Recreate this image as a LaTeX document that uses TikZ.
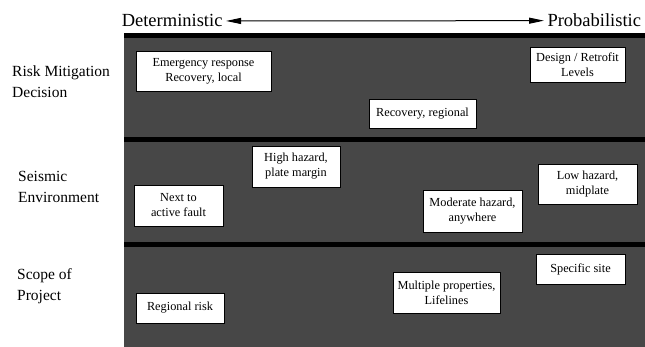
\documentclass[tikz,border=0pt]{standalone}
\usepackage{fontspec}
\setmainfont{Liberation Serif}
\usetikzlibrary{arrows.meta}

\begin{document}
\begin{tikzpicture}[x=1pt,y=-1pt,
  band/.style={line width=5pt},
  item/.style={draw=black,fill=white,line width=.6pt,align=center,inner sep=0pt,
    font=\fontsize{12.3}{15}\selectfont},
  side/.style={anchor=west,align=left,inner sep=0pt,font=\fontsize{15.5}{21}\selectfont},
  head/.style={font=\fontsize{18.5}{22}\selectfont}]
\useasboundingbox (0,0) rectangle (645,347);
% shaded field and the black bands
\fill[black!72] (124,33) rectangle (645,347);
\draw[band] (124,35.5) -- (645,35.5);
\draw[band] (124,140) -- (645,140);
\draw[band] (124,244.5) -- (645,244.5);
% header
\node[head,anchor=base east] (det) at (226,27) {Deterministic};
\node[head,anchor=base west] (prob) at (544,27) {Probabilistic};
\draw[{Triangle[length=15pt,width=6pt]}-{Triangle[length=15pt,width=6pt]},line width=1pt] (det.east) -- (prob.west);
% rows
\node[side] (risk) at (12,82) {Risk Mitigation\\Decision};
\node[side] (seis) at (18,187) {Seismic\\Environment};
\node[side] (scope) at (17,286) {Scope of\\Project};
% boxes
\node[item,minimum width=135,minimum height=40] (emerg) at (203.5,71) {Emergency response\\Recovery, local};
\node[item,minimum width=95,minimum height=35] (design) at (577.5,64.5) {Design / Retrofit\\Levels};
\node[item,minimum width=107,minimum height=29] (recov) at (422.5,113.5) {Recovery, regional};
\node[item,minimum width=88,minimum height=41] (high) at (296,166.5) {High hazard,\\plate margin};
\node[item,minimum width=89,minimum height=41] (next) at (178.5,205.5) {Next to\\active fault};
\node[item,minimum width=99,minimum height=42] (moder) at (472.5,211) {Moderate hazard,\\anywhere};
\node[item,minimum width=99,minimum height=40] (low) at (587.5,184) {Low hazard,\\midplate};
\node[item,minimum width=88,minimum height=30] (regrisk) at (180,308) {Regional risk};
\node[item,minimum width=107,minimum height=41] (multi) at (446.5,292.5) {Multiple properties,\\Lifelines};
\node[item,minimum width=89,minimum height=30] (site) at (580.5,269) {Specific site};

\end{tikzpicture}
\end{document}
